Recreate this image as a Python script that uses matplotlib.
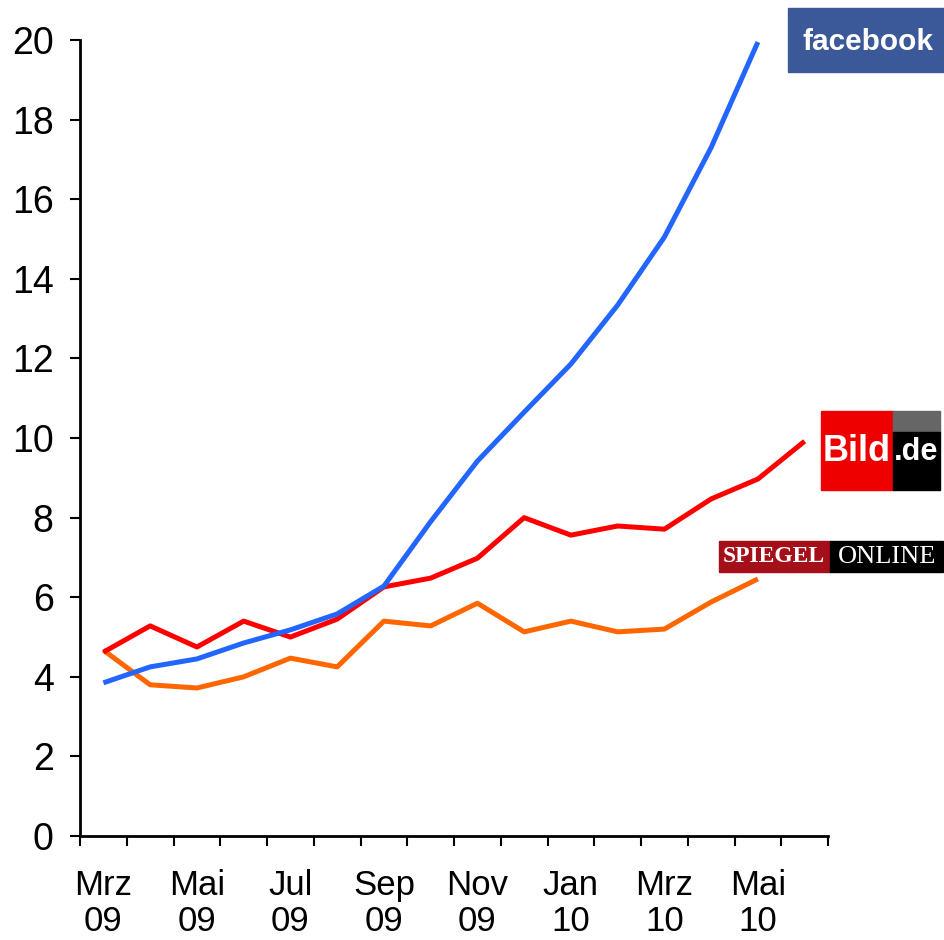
import matplotlib.pyplot as plt
from matplotlib.patches import Rectangle

plt.rcParams['font.family'] = ['Liberation Sans', 'DejaVu Sans']

months = ['Mrz\n09', 'Apr\n09', 'Mai\n09', 'Jun\n09', 'Jul\n09', 'Aug\n09', 'Sep\n09', 'Okt\n09',
          'Nov\n09', 'Dez\n09', 'Jan\n10', 'Feb\n10', 'Mrz\n10', 'Apr\n10', 'Mai\n10', 'Jun\n10']
facebook = [3.85, 4.25, 4.45, 4.85, 5.18, 5.58, 6.28, 7.9, 9.42, 10.65, 11.86, 13.34, 15.05, 17.3, 19.95]
bild = [4.62, 5.28, 4.75, 5.4, 5.0, 5.45, 6.26, 6.48, 6.98, 8.0, 7.56, 7.79, 7.71, 8.47, 8.97, 9.92]
spiegel = [4.67, 3.8, 3.72, 4.0, 4.47, 4.25, 5.4, 5.28, 5.85, 5.13, 5.4, 5.13, 5.2, 5.88, 6.46]

fig = plt.figure(figsize=(9.45, 9.4), dpi=100)
ax = fig.add_axes([0.0847, 0.1106, 0.7915, 0.8468])

ax.plot(range(len(spiegel)), spiegel, color='#FF6600', lw=3.6, solid_capstyle='butt')
ax.plot(range(len(bild)), bild, color='#FF0000', lw=3.6, solid_capstyle='butt')
ax.plot(range(len(facebook)), facebook, color='#2266FF', lw=3.6, solid_capstyle='butt')

ax.set_xlim(-0.5, len(months) - 0.5)
ax.set_ylim(0, 20)
ax.set_yticks(range(0, 21, 2))
ax.tick_params(axis='y', direction='out', length=7, width=1.5, labelsize=27, pad=12)

# category axis: ticks on boundaries, labels every second month
ax.set_xticks([i - 0.5 for i in range(len(months) + 1)])
ax.set_xticklabels([])
ax.tick_params(axis='x', direction='out', length=7, width=1.5)
ax.set_xticks(range(0, len(months), 2), minor=True)
ax.set_xticklabels(months[::2], minor=True, fontsize=25, linespacing=1.12)
ax.tick_params(axis='x', which='minor', length=0, pad=24)

for s in ['top', 'right']:
    ax.spines[s].set_visible(False)
for s in ['left', 'bottom']:
    ax.spines[s].set_linewidth(2)

W, H = 945, 940

def box(x0, y0, x1, y1, color):
    fig.patches.append(Rectangle((x0 / W, 1 - y1 / H), (x1 - x0) / W, (y1 - y0) / H,
                                 transform=fig.transFigure, color=color, zorder=5))

# facebook logo
box(788, 8, 945, 72, '#3B5998')
fig.text(868 / W, 1 - 42 / H, 'facebook', color='white', fontsize=21.5, fontweight='bold',
         ha='center', va='center', zorder=6)

# Bild.de logo
box(821, 411, 893, 490, '#EE0000')
box(893, 411, 940, 432, '#666666')
box(893, 432, 940, 490, '#000000')
fig.text(857 / W, 1 - 452 / H, 'Bild', color='white', fontsize=26, fontweight='bold',
         ha='center', va='center', zorder=6)
fig.text(916 / W, 1 - 452 / H, '.de', color='white', fontsize=22, fontweight='bold',
         ha='center', va='center', zorder=6)

# SPIEGEL ONLINE logo
box(719, 541, 830, 572, '#A50F1A')
box(830, 541, 943, 572, '#000000')
fig.text(774 / W, 1 - 557 / H, 'SPIEGEL', color='white', fontsize=17, fontweight='bold',
         family='Liberation Serif', ha='center', va='center', zorder=6)
fig.text(887 / W, 1 - 557 / H, 'ONLINE', color='white', fontsize=19,
         family='Liberation Serif', ha='center', va='center', zorder=6)

fig.savefig('out.png', dpi=100)
